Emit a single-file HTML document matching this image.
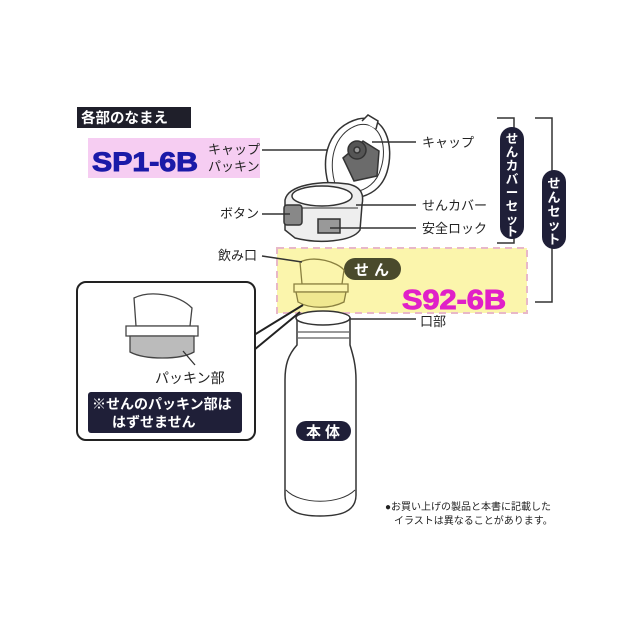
<!DOCTYPE html>
<html><head><meta charset="utf-8"><style>
html,body{margin:0;padding:0;background:#fff;}
svg{display:block;font-family:"Liberation Sans","Noto Sans CJK JP",sans-serif;}
</style></head><body>
<svg width="640" height="640" viewBox="0 0 640 640" xmlns="http://www.w3.org/2000/svg">
<rect width="640" height="640" fill="#fff"/>
<!-- title -->
<rect x="77" y="107" width="114" height="21" fill="#1f1f2a"/>
<text x="81" y="123" font-size="14.5" font-weight="bold" fill="#fff">各部のなまえ</text>
<!-- SP1-6B pink -->
<rect x="88" y="138" width="172" height="40" fill="#f6cdf2"/>
<text x="92" y="171" font-size="27" font-weight="900" fill="#1a1aa8" stroke="#1a1aa8" stroke-width="1" textLength="106" lengthAdjust="spacingAndGlyphs">SP1-6B</text>
<text x="208" y="154" font-size="13" fill="#222">キャップ</text>
<text x="208" y="171" font-size="13" fill="#222">パッキン</text>
<line x1="262" y1="150" x2="357" y2="150" stroke="#333" stroke-width="1.5"/>
<!-- yellow dashed box -->
<rect x="277" y="248" width="250" height="65" fill="#fbf5ac" stroke="#e8b8c8" stroke-width="2" stroke-dasharray="7,5"/>
<rect x="344" y="258" width="57" height="22" rx="11" fill="#4a4a2c"/>
<text x="354" y="275" font-size="15" font-weight="bold" fill="#fff" letter-spacing="5">せん</text>
<text x="402" y="309" font-size="28" font-weight="900" fill="#e020c8" stroke="#e020c8" stroke-width="1" textLength="104" lengthAdjust="spacingAndGlyphs">S92-6B</text>
<!-- cap lid -->
<g stroke="#333" stroke-width="1.5" fill="#fff">
<path d="M333,196 C318,165 325,128 358,119 C385,113 395,145 387,172 C382,188 370,196 355,198 Z"/>
<path d="M338,192 C326,164 333,133 358,125 C380,120 388,146 381,168 C377,183 366,190 355,192 Z" fill="none" stroke-width="1"/>
<path d="M362,121 l6,-6 l10,6 l-2,8" fill="#fff"/>
<path d="M343,158 l20,-17 l16,10 l-2,25 l-23,5 z" fill="#6b6b6b"/>
<circle cx="357" cy="150" r="9" fill="#555"/>
<circle cx="357" cy="150" r="3" fill="#999"/>
<!-- base ring -->
<path d="M285,200 C288,185 320,180 348,184 C362,187 364,195 362,205 L360,230 C352,242 318,244 295,238 L285,230 Z" fill="#eee"/>
<ellipse cx="322" cy="196" rx="30" ry="10" fill="#fff"/>
<path d="M296,208 L358,208" stroke-width="1" fill="none"/>
<rect x="284" y="205" width="18" height="20" rx="3" fill="#888"/>
<rect x="318" y="219" width="22" height="14" fill="#999"/>
</g>
<line x1="372" y1="142" x2="416" y2="142" stroke="#333" stroke-width="1.5"/>
<text x="422" y="147" font-size="13" fill="#222">キャップ</text>
<line x1="356" y1="205" x2="416" y2="205" stroke="#333" stroke-width="1.5"/>
<text x="422" y="210" font-size="13" fill="#222">せんカバー</text>
<line x1="330" y1="228" x2="416" y2="228" stroke="#333" stroke-width="1.5"/>
<text x="422" y="233" font-size="13" fill="#222">安全ロック</text>
<text x="220" y="218" font-size="13" fill="#222">ボタン</text>
<line x1="262" y1="214" x2="290" y2="214" stroke="#333" stroke-width="1.5"/>
<!-- spout -->
<g stroke="#8a8040" stroke-width="1.3" fill="#fbf5ac">
<path d="M300,262 C315,255 337,262 344,270 L342,284 L302,284 Z"/>
<path d="M294,284 L348,284 L348,292 L294,292 Z"/>
<path d="M296,292 L346,292 L344,302 C330,309 310,309 298,302 Z" fill="#f0e890"/>
</g>
<text x="218" y="260" font-size="13" fill="#222">飲み口</text>
<line x1="262" y1="256" x2="302" y2="262" stroke="#333" stroke-width="1.5"/>
<!-- brackets -->
<g stroke="#333" stroke-width="1.5" fill="none">
<path d="M497,118 H514 V243 H497"/>
<path d="M535,118 H552 V302 H535"/>
</g>
<rect x="500" y="127" width="24" height="112" rx="12" fill="#1f1f38"/>
<text font-size="12.5" font-weight="bold" fill="#fff" text-anchor="middle">
<tspan x="512" y="143">せ</tspan><tspan x="512" y="156.5">ん</tspan><tspan x="512" y="170">カ</tspan><tspan x="512" y="183.5">バ</tspan><tspan x="512" y="197">ー</tspan><tspan x="512" y="210.5">セ</tspan><tspan x="512" y="224">ッ</tspan><tspan x="512" y="236">ト</tspan></text>
<rect x="542" y="170" width="24" height="79" rx="12" fill="#1f1f38"/>
<text font-size="13" font-weight="bold" fill="#fff" text-anchor="middle">
<tspan x="554" y="188">せ</tspan><tspan x="554" y="202">ん</tspan><tspan x="554" y="216">セ</tspan><tspan x="554" y="230">ッ</tspan><tspan x="554" y="244">ト</tspan></text>
<!-- callout -->
<path d="M254,335 L303,305 M254,350 L300,312" stroke="#222" stroke-width="2"/>
<rect x="77" y="282" width="178" height="158" rx="9" fill="#fff" stroke="#222" stroke-width="2"/>
<g stroke="#444" stroke-width="1.3" fill="#fff">
<path d="M134,298 C150,290 178,294 192,308 L190,326 L136,326 Z"/>
<path d="M126,326 L198,326 L198,336 L126,336 Z"/>
<path d="M130,336 L194,336 L194,352 C180,360 145,360 130,352 Z" fill="#bbb"/>
</g>
<line x1="183" y1="351" x2="195" y2="365" stroke="#333" stroke-width="1.3"/>
<text x="155" y="383" font-size="14" fill="#222">パッキン部</text>
<rect x="88" y="392" width="154" height="41" rx="3" fill="#1f1f38"/>
<text x="92" y="409" font-size="14" font-weight="bold" fill="#fff">※せんのパッキン部は</text>
<text x="112" y="427" font-size="14" font-weight="bold" fill="#fff">はずせません</text>
<!-- bottle -->
<g stroke="#333" stroke-width="1.5" fill="#fff">
<path d="M297,318 L297,345 C288,355 285,365 285,380 L285,495 C285,512 300,516 320,516 C340,516 356,512 356,495 L356,380 C356,365 353,355 350,345 L350,318 Z"/>
<ellipse cx="323" cy="318" rx="27" ry="7"/>
<line x1="298" y1="332" x2="349" y2="332" stroke-width="1"/>
<line x1="298" y1="338" x2="349" y2="338" stroke-width="1"/>
<path d="M286,490 C300,505 340,505 355,490" fill="none" stroke-width="1"/>
</g>
<rect x="296" y="421" width="55" height="20" rx="10" fill="#1f1f38"/>
<text x="306" y="437" font-size="15" font-weight="bold" fill="#fff" letter-spacing="4">本体</text>
<line x1="349" y1="319" x2="416" y2="319" stroke="#333" stroke-width="1.5"/>
<text x="420" y="326" font-size="13" fill="#222">口部</text>
<!-- footnote -->
<text x="385" y="510" font-size="10" fill="#222">●お買い上げの製品と本書に記載した</text>
<text x="394" y="524" font-size="10" fill="#222">イラストは異なることがあります。</text>
</svg>
</body></html>
